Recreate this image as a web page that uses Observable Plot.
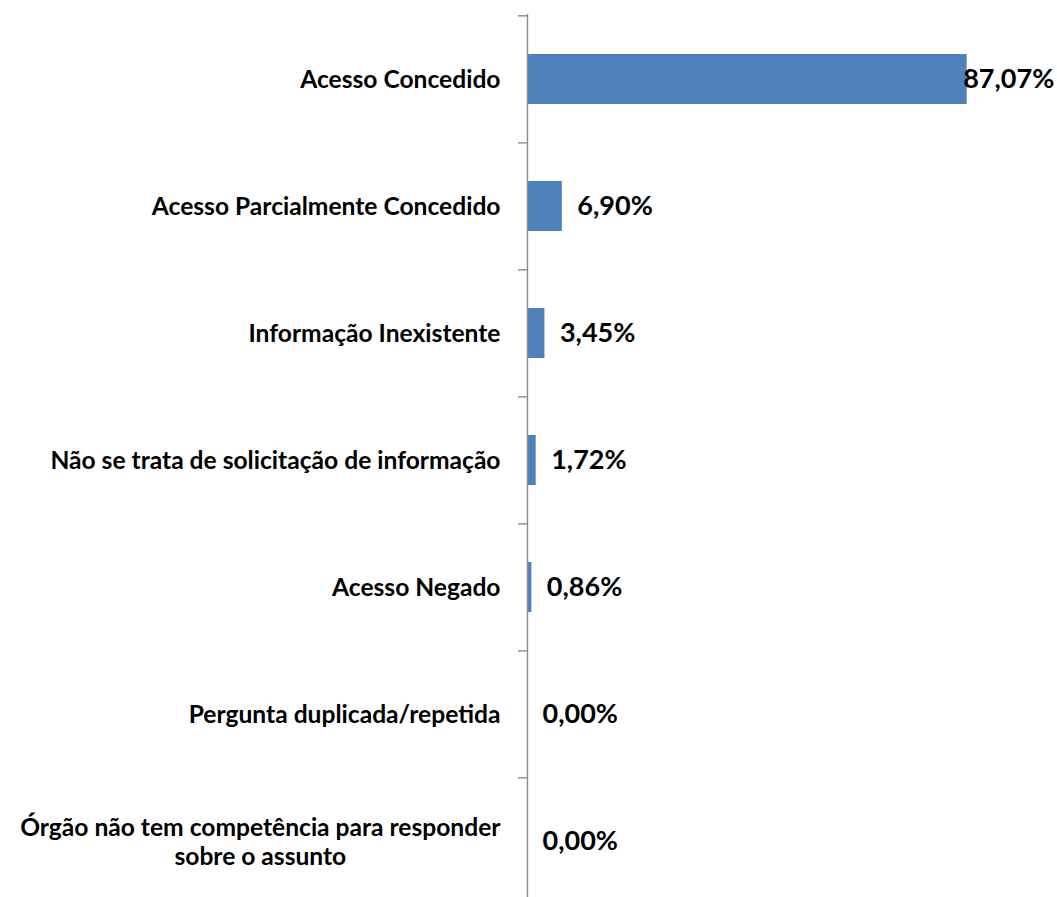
<!DOCTYPE html>
<html>
<head>
<meta charset="utf-8">
<script src="https://cdn.jsdelivr.net/npm/d3@7"></script>
<script src="https://cdn.jsdelivr.net/npm/@observablehq/plot@0.6"></script>
<style>
  html, body { margin: 0; padding: 0; background: #fff; overflow: hidden; }
  #chart { width: 1057px; height: 897px; overflow: hidden; }
</style>
</head>
<body>
<div id="chart"></div>
<script>
const categories = [
  "Acesso Concedido",
  "Acesso Parcialmente Concedido",
  "Informação Inexistente",
  "Não se trata de solicitação de informação",
  "Acesso Negado",
  "Pergunta duplicada/repetida",
  "Órgão não tem competência para responder sobre o assunto"
];
const tickLabels = [
  "Acesso Concedido",
  "Acesso Parcialmente Concedido",
  "Informação Inexistente",
  "Não se trata de solicitação de informação",
  "Acesso Negado",
  "Pergunta duplicada/repetida",
  "Órgão não tem competência para responder\nsobre o assunto"
];
const values = [87.07, 6.90, 3.45, 1.72, 0.86, 0.00, 0.00];

const data = categories.map((c, i) => ({category: c, value: values[i], label: tickLabels[i]}));
const fmt = v => v.toFixed(2).replace(".", ",") + "%";

const W = 1057, H = 905, mTop = 14, mBottom = 0, mLeft = 527, mRight = 25;
const step = (H - mTop - mBottom) / categories.length;
const font = "Lato, 'Open Sans', sans-serif";

const plot = Plot.plot({
  width: W,
  height: H,
  marginTop: mTop,
  marginBottom: mBottom,
  marginLeft: mLeft,
  marginRight: mRight,
  style: {fontFamily: font, background: "#fff", color: "#000"},
  x: {domain: [0, 100], axis: null},
  y: {domain: categories, paddingInner: 0.607, paddingOuter: 0.3035, axis: null},
  marks: [
    Plot.barX(data, {y: "category", x: "value", fill: "#4f81bd"}),
    Plot.ruleX([0], {stroke: "#8c8c8c", strokeWidth: 1.4}),
    Plot.ruleY(categories, {y: d => d, x1: 0, x2: 0, insetLeft: -9, dy: -step / 2, stroke: "#8c8c8c", strokeWidth: 1.4}),
    Plot.axisY({
      tickSize: 0,
      tickPadding: 27,
      label: null,
      tickFormat: c => tickLabels[categories.indexOf(c)],
      fontSize: 24.6,
      fontWeight: "bold",
      lineHeight: 1.14,
      fill: "#000"
    }),
    Plot.text(data.filter(d => d.value < 50), {
      y: "category", x: "value", text: d => fmt(d.value),
      textAnchor: "start", dx: 15, fontSize: 27, fontWeight: "bold", fill: "#000"
    }),
    Plot.text(data.filter(d => d.value >= 50), {
      y: "category", x: "value", text: d => fmt(d.value),
      textAnchor: "start", dx: -4, fontSize: 27, fontWeight: "bold", fill: "#000"
    })
  ]
});

document.getElementById("chart").appendChild(plot);

// center the lines of multi-line tick labels relative to each other
plot.querySelectorAll("text").forEach(t => {
  const spans = t.querySelectorAll("tspan");
  if (spans.length < 2) return;
  const widths = Array.from(spans, s => s.getComputedTextLength());
  const maxW = Math.max(...widths);
  spans.forEach((s, i) => {
    const x0 = +(s.getAttribute("x") || 0);
    s.setAttribute("x", x0 - (maxW - widths[i]) / 2);
  });
});
</script>
</body>
</html>
